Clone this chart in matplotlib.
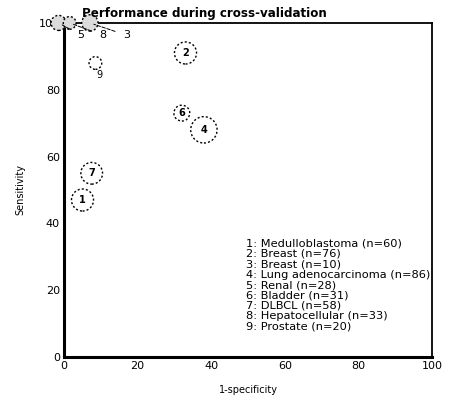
import numpy as np
import matplotlib
matplotlib.use("Agg")
from matplotlib import pyplot as plt

# Points (1-specificity, sensitivity)
ids = ["1", "2", "3", "4", "5", "6", "7", "8", "9"]
fpr = [5, 33, 7, 38, -1.5, 32, 7.5, 1.5, 8.5]
sens = [47, 91, 100, 68, 100, 73, 55, 100, 88]
n = [60, 60, 33, 86, 28, 31, 58, 20, 20]
legend_lines = [
    "1: Medulloblastoma (n=60)",
    "2: Breast (n=76)",
    "3: Breast (n=10)",
    "4: Lung adenocarcinoma (n=86)",
    "5: Renal (n=28)",
    "6: Bladder (n=31)",
    "7: DLBCL (n=58)",
    "8: Hepatocellular (n=33)",
    "9: Prostate (n=20)",
]
ticks = [0, 20, 40, 60, 80, 100]

fig = plt.figure(figsize=(4.68, 4.09), dpi=100)
ax = fig.add_axes([0.137, 0.127, 0.786, 0.817])

sizes = [s * 4.2 for s in n]
top = [lab in ("3", "5", "8") for lab in ids]
face = ["#dcdcdc" if t else "none" for t in top]
ax.scatter(fpr, sens, s=sizes, facecolors=face, edgecolors="black",
           linestyles=(0, (1.5, 1.5)), linewidths=1.0, clip_on=False, zorder=3)

# labels inside circles, except crowded ones at the top and the small 9
for i, lab in enumerate(ids):
    if top[i]:
        continue
    if lab == "9":
        ax.text(fpr[i] + 1, sens[i] - 3.5, lab, fontsize=7, ha="center", va="center")
    else:
        ax.text(fpr[i], sens[i], lab, fontsize=7, ha="center", va="center",
                fontweight="bold")

# leader-line labels for the top-left cluster
offsets = {"5": (4.5, 96.3), "8": (10.5, 96.3), "3": (17, 96.3)}
for i, lab in enumerate(ids):
    if lab in offsets:
        tx, ty = offsets[lab]
        ax.annotate(lab, xy=(fpr[i], sens[i]), xytext=(tx, ty), fontsize=8,
                    ha="center", va="center", zorder=4, annotation_clip=False,
                    arrowprops=dict(arrowstyle="-", linestyle="--", lw=0.7,
                                    shrinkA=4, shrinkB=3))

ax.set_xlim(0, 100)
ax.set_ylim(0, 100)
ax.set_xticks(ticks)
ax.set_yticks(ticks)
ax.tick_params(length=0, labelsize=8)
ax.tick_params(axis="x", pad=3)
ax.tick_params(axis="y", pad=3)
for side in ("left", "bottom"):
    ax.spines[side].set_linewidth(2.2)
for side in ("top", "right"):
    ax.spines[side].set_linewidth(1.3)

ax.set_xlabel("1-specificity", fontsize=7, labelpad=10)
ax.set_ylabel("Sensitivity", fontsize=7, labelpad=10)
fig.text(0.175, 0.968, "Performance during cross-validation", fontsize=8.6,
         fontweight="heavy", ha="left", va="center")

ax.text(49.5, 35.5, "\n".join(legend_lines), fontsize=8.2, ha="left", va="top",
        linespacing=1.05)

fig.savefig("out.png", dpi=100)
